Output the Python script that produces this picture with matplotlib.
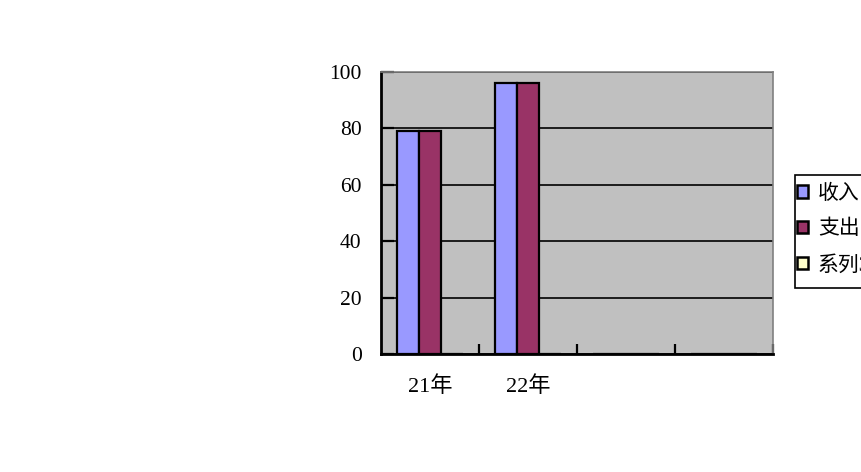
import numpy as np
import matplotlib
matplotlib.use("Agg")
import matplotlib.pyplot as plt
from matplotlib.patches import Rectangle

plt.rcParams['font.family'] = ['Liberation Serif', 'Noto Sans CJK SC', 'DejaVu Sans']

categories = ['21年', '22年', '', '']
income = [79, 96, 0, 0]
spend = [79, 96, 0, 0]
series3 = [0, 0, 0, 0]
names = ['收入', '支出', '系列3']
colors = ['#9999FF', '#993366', '#FFFFCC']

fig = plt.figure(figsize=(8.62, 4.72), dpi=100)
ax = fig.add_axes([381/862, 1-354/472, 392/862, 282/472])
ax.set_facecolor('#C0C0C0')

x = np.arange(len(categories))
w = 0.2245
handles = []
for k, (vals, nm, c) in enumerate(zip([income, spend, series3], names, colors)):
    b = ax.bar(x + (k - 1) * w, vals, w, color=c, edgecolor='black', linewidth=1.6,
               label=nm, zorder=3)
    handles.append(b)

ax.set_xlim(-0.5, len(categories) - 0.5)
ax.set_ylim(0, 100)
ax.set_yticks(range(0, 101, 20))
ax.yaxis.grid(True, color='black', linewidth=1.2, zorder=1)
ax.set_axisbelow(True)

ax.set_xticks(x)
ax.set_xticklabels(categories, fontsize=16)
ax.set_xticks(np.arange(0.5, len(categories), 1), minor=True)
ax.tick_params(axis='x', which='major', length=0, pad=16)
ax.tick_params(axis='x', which='minor', direction='in', length=7, width=1.6, color='black')
ax.tick_params(axis='y', direction='in', length=9, width=1.6, labelsize=15.5, pad=14)

for s in ['left', 'bottom']:
    ax.spines[s].set_color('black')
    ax.spines[s].set_linewidth(2)
for s in ['top', 'right']:
    ax.spines[s].set_color('#808080')
    ax.spines[s].set_linewidth(1.2)

# legend box (runs off the right edge like the original)
fig.patches.append(Rectangle((795/862, 1-288/472), 80/862, 113/472,
                             transform=fig.transFigure, facecolor='white',
                             edgecolor='black', linewidth=1.2))
leg = fig.legend(handles=handles, labels=names, loc='center left',
                 bbox_to_anchor=(797/862, 1-230/472), fontsize=15,
                 frameon=False, handlelength=0.55, handleheight=0.55,
                 handletextpad=0.45, borderpad=0, labelspacing=0.78,
                 borderaxespad=0)
for h in leg.legend_handles:
    h.set_linewidth(1.8)

fig.savefig('out.png', dpi=100)
